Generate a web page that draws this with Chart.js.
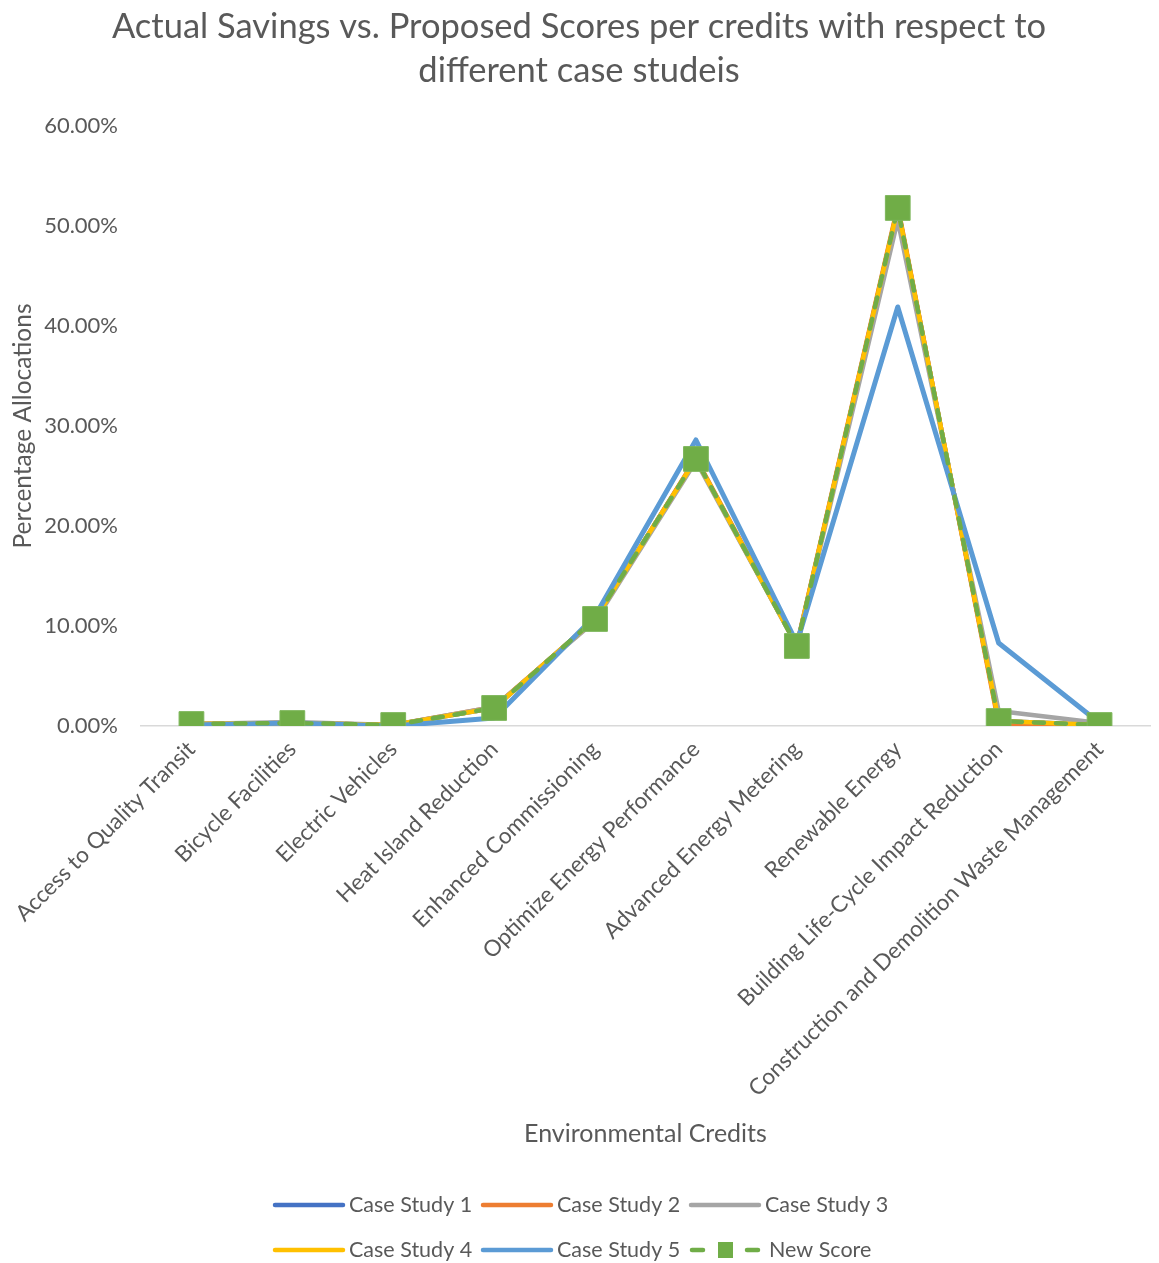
<!DOCTYPE html>
<html>
<head>
<meta charset="utf-8">
<script src="https://cdn.jsdelivr.net/npm/chart.js@4/dist/chart.umd.min.js"></script>
<style>
  html, body { margin: 0; padding: 0; background: #ffffff; overflow: hidden; }
  #wrap { width: 1159px; height: 1263px; position: relative; }
  canvas { display: block; }
</style>
</head>
<body>
<div id="wrap"><canvas id="chart" width="1159" height="1263"></canvas></div>
<script>
// Environmental credits (x categories)
const categories = [
  'Access to Quality Transit',
  'Bicycle Facilities',
  'Electric Vehicles',
  'Heat Island Reduction',
  'Enhanced Commissioning',
  'Optimize Energy Performance',
  'Advanced Energy Metering',
  'Renewable Energy',
  'Building Life-Cycle Impact Reduction',
  'Construction and Demolition Waste Management'
];

// Percentage allocations per credit (%)
const caseStudy1 = [0.2, 0.3, 0.1, 1.8, 10.7, 26.7, 8.0, 51.8, 0.5, 0.1];
const caseStudy2 = [0.2, 0.3, 0.1, 1.9, 10.6, 26.8, 8.1, 52.0, 0.2, 0.1];
const caseStudy3 = [0.2, 0.4, 0.1, 1.9, 10.5, 26.5, 8.0, 50.6, 1.5, 0.3];
const caseStudy4 = [0.2, 0.3, 0.1, 1.8, 10.7, 26.7, 8.0, 51.8, 0.5, 0.1];
const caseStudy5 = [0.1, 0.3, 0.0, 0.8, 11.0, 28.6, 8.3, 41.9, 8.3, 0.3];
const newScore   = [0.2, 0.3, 0.1, 1.8, 10.7, 26.7, 8.0, 51.8, 0.5, 0.1];

// Y axis range and tick spacing (%)
const yMin = 0;
const yMax = 60;
const yStep = 10;

const FONT = 'Lato, "Open Sans", sans-serif';
const TEXT = '#595959';

function lineSeries(label, data, color, order, width) {
  return {
    label, data, order,
    borderColor: color,
    backgroundColor: color,
    borderWidth: width,
    pointRadius: 0,
    pointHoverRadius: 0,
    tension: 0,
    fill: false,
    borderCapStyle: 'round',
    borderJoinStyle: 'round'
  };
}

const datasets = [
  lineSeries('Case Study 1', caseStudy1, '#4472C4', 5, 4.5),
  lineSeries('Case Study 2', caseStudy2, '#ED7D31', 4, 4.5),
  lineSeries('Case Study 3', caseStudy3, '#A5A5A5', 3, 4.5),
  lineSeries('Case Study 4', caseStudy4, '#FFC000', 2, 4.5),
  lineSeries('Case Study 5', caseStudy5, '#5B9BD5', 1, 5),
  {
    label: 'New Score', data: newScore, order: 0,
    borderColor: '#70AD47', backgroundColor: '#70AD47',
    borderWidth: 4.5, borderDash: [10, 12], borderCapStyle: 'round',
    tension: 0, fill: false,
    pointStyle: 'rect', pointRadius: 17.5, pointHoverRadius: 17.5,
    pointBackgroundColor: '#70AD47', pointBorderColor: '#7DB65A', pointBorderWidth: 1
  }
];

// Two-row legend drawn beneath the axis title
const legendRows = [[0, 1, 2], [3, 4, 5]];
const legendPlugin = {
  id: 'rowLegend',
  afterDraw(chart) {
    const ctx = chart.ctx;
    const colX = [273, 481, 689];
    const rowY = [1205, 1250];
    ctx.save();
    ctx.font = '21.5px ' + FONT;
    ctx.textBaseline = 'middle';
    ctx.textAlign = 'left';
    legendRows.forEach((row, r) => {
      row.forEach((di, c) => {
        const ds = chart.data.datasets[di];
        const x0 = colX[c], x1 = x0 + 72, y = rowY[r];
        ctx.strokeStyle = ds.borderColor;
        ctx.lineWidth = 4.5;
        ctx.lineCap = 'round';
        if (ds.borderDash) {
          ctx.beginPath(); ctx.moveTo(x0 + 3, y); ctx.lineTo(x0 + 14, y); ctx.stroke();
          ctx.beginPath(); ctx.moveTo(x1 - 14, y); ctx.lineTo(x1 - 3, y); ctx.stroke();
          ctx.fillStyle = ds.pointBackgroundColor;
          ctx.fillRect(x0 + 29, y - 8, 15, 16);
        } else {
          ctx.beginPath(); ctx.moveTo(x0 + 2, y); ctx.lineTo(x1 - 2, y); ctx.stroke();
        }
        ctx.fillStyle = TEXT;
        ctx.fillText(ds.label, x1 + 4 + (ds.borderDash ? 4 : 0), y);
      });
    });
    ctx.restore();
  }
};

new Chart(document.getElementById('chart'), {
  type: 'line',
  data: { labels: categories, datasets },
  plugins: [legendPlugin],
  options: {
    responsive: false,
    animation: false,
    layout: { autoPadding: false, padding: { left: 8, right: 9, top: 0, bottom: 110 } },
    plugins: {
      legend: { display: false },
      tooltip: { enabled: false },
      title: {
        display: true,
        text: ['Actual Savings vs. Proposed Scores per credits with respect to', 'different case studeis'],
        color: TEXT,
        font: { family: FONT, size: 34.5, weight: 'normal', lineHeight: 1.275 },
        padding: { top: 5, bottom: 33 }
      }
    },
    scales: {
      x: {
        offset: true,
        grid: { display: false, drawTicks: false, offset: true },
        border: { display: true, color: '#D9D9D9', width: 1.5 },
        ticks: {
          color: TEXT, font: { family: FONT, size: 22.5 },
          maxRotation: 45, minRotation: 45, autoSkip: false, padding: 10
        },
        title: {
          display: true, text: 'Environmental Credits', color: TEXT,
          font: { family: FONT, size: 25 }, padding: { top: 4, bottom: 4 }
        },
        afterFit(scale) {
          scale.height = 427;
          scale.paddingLeft = 0;
          scale.paddingRight = 0;
        }
      },
      y: {
        min: yMin, max: yMax,
        grid: { display: false, drawTicks: false },
        border: { display: false },
        ticks: {
          stepSize: yStep, color: TEXT, font: { family: FONT, size: 22 }, padding: 23,
          callback: v => v.toFixed(2) + '%'
        },
        title: {
          display: true, text: 'Percentage Allocations', color: TEXT,
          font: { family: FONT, size: 24.5 }, padding: { top: 0, bottom: 4 }
        },
        afterFit(scale) { scale.width = 133; }
      }
    }
  }
});
</script>
</body>
</html>
